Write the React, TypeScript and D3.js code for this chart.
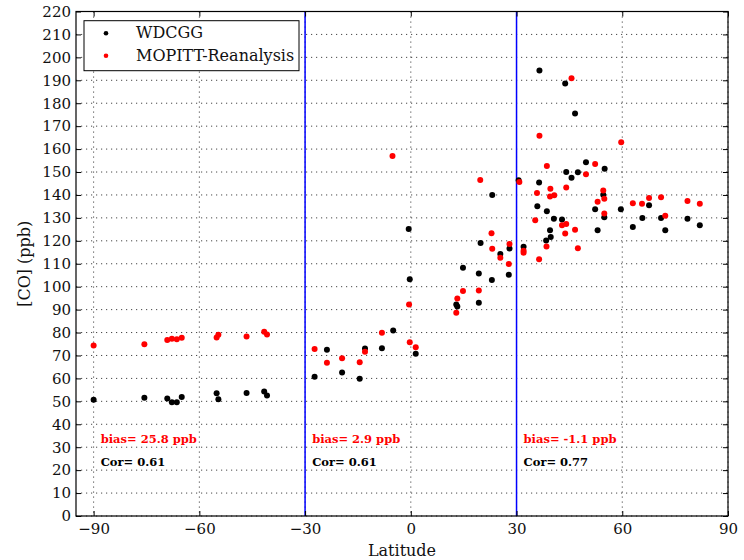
import { useEffect, useRef } from "react"
import * as d3 from "d3"

// WDCGG station observations
const wdcggLat = [
  -90, -75.6, -69.1, -67.8, -66.4, -65, -55.1, -54.6, -46.6, -41.6, -40.8,
  -27.3, -23.8, -19.5, -14.5, -13, -8.2, -5, -0.3, -0.6, 1.4,
  12.9, 13.2, 14.8, 19.3, 19.3, 19.8, 23, 23.1, 25.4, 27.8, 28,
  30.6, 32, 35.9, 36.4, 36.5, 38.4, 38.6, 39.5, 39.7, 40.6, 42.9, 43.8, 44.1,
  45.6, 46.6, 47.4, 49.7, 52.3, 53, 54.6, 54.9, 55, 59.6, 63, 65.7, 67.6, 71,
  72.2, 78.5, 82,
]
const wdcggCO = [
  50.7, 51.6, 51.2, 49.6, 49.6, 51.9, 53.5, 50.9, 53.6, 54.3, 52.6,
  60.7, 72.5, 62.6, 59.9, 73, 73.2, 80.9, 103.2, 125.2, 70.7,
  92.2, 91.4, 108.3, 105.7, 93, 119, 102.9, 140, 114.2, 105.2, 116.7,
  146.4, 117.4, 135.1, 145.4, 194.3, 120.1, 132.9, 124.6, 121.7, 129.6, 129.3, 188.6, 150,
  147.5, 175.5, 149.9, 154.3, 133.8, 124.6, 140.1, 130.3, 151.4, 133.8, 126, 129.9, 135.5, 129.9,
  124.6, 129.6, 126.8,
]

// MOPITT reanalysis sampled at the stations
const mopittLat = [
  -90, -75.6, -69.1, -67.8, -66.4, -65, -55.1, -54.6, -46.6, -41.6, -40.8,
  -27.3, -23.8, -19.5, -14.5, -13, -8.2, -5.2, -0.5, -0.3, 1.4,
  12.9, 13.2, 14.8, 19.3, 19.7, 22.9, 23.1, 25.4, 27.8, 28,
  30.8, 32, 32, 35.3, 35.8, 36.4, 36.5, 38.5, 38.6, 39.5, 39.6, 40.7, 42.9, 43.8,
  44.1, 44.1, 45.6, 46.6, 47.4, 49.7, 52.3, 53, 54.6, 54.9, 54.9, 59.7, 63, 65.6,
  67.6, 71, 72.2, 78.5, 82,
]
const mopittCO = [
  74.3, 74.9, 76.7, 77.3, 77.1, 77.7, 77.8, 79, 78.3, 80.3, 79.1,
  72.8, 66.8, 68.8, 67, 71.6, 79.9, 157, 92.2, 75.8, 73.6,
  88.6, 94.9, 98.1, 98.3, 146.5, 123.3, 116.5, 112.6, 109.9, 118.6,
  145.7, 115.7, 114.8, 129, 140.9, 112, 165.8, 117.5, 152.6, 139.3, 142.7, 139.9, 126.8, 123.2,
  143.3, 127.3, 190.9, 124.8, 116.8, 149, 153.5, 137, 141.9, 138.3, 131.9, 163, 136.4, 136.2,
  138.7, 139, 130.9, 137.4, 136.2,
]

const xTicks = [-90, -60, -30, 0, 30, 60, 90]
const yTicks = d3.range(0, 221, 10)
const bandEdges = [-30, 30]
const bandBias = ["bias= 25.8 ppb", "bias= 2.9 ppb", "bias= -1.1 ppb"]
const bandCor = ["Cor= 0.61", "Cor= 0.61", "Cor= 0.77"]
const bandTextLat = [-88, -28, 32]

const FONT = "DejaVu Serif, serif"

export default function App() {
  const svgRef = useRef<SVGSVGElement>(null)

  useEffect(() => {
    if (!svgRef.current) return
    const svg = d3.select(svgRef.current)
    svg.selectAll("*").remove()

    const width = 744
    const height = 560
    const margin = { top: 11.5, right: 16, bottom: 44, left: 76 }
    const innerWidth = width - margin.left - margin.right
    const innerHeight = height - margin.top - margin.bottom

    const x = d3.scaleLinear().domain([-95, 90]).range([0, innerWidth])
    const y = d3.scaleLinear().domain([0, 220]).range([innerHeight, 0])

    svg.append("rect").attr("width", width).attr("height", height).attr("fill", "white")

    const g = svg.append("g").attr("transform", `translate(${margin.left},${margin.top})`)

    // dotted grid
    g.append("g")
      .selectAll("line")
      .data(xTicks)
      .enter()
      .append("line")
      .attr("x1", (d) => x(d))
      .attr("x2", (d) => x(d))
      .attr("y1", 0)
      .attr("y2", innerHeight)
      .attr("stroke", "#333")
      .attr("stroke-width", 0.9)
      .attr("stroke-dasharray", "1.2,3.8")
    g.append("g")
      .selectAll("line")
      .data(yTicks)
      .enter()
      .append("line")
      .attr("x1", 0)
      .attr("x2", innerWidth)
      .attr("y1", (d) => y(d))
      .attr("y2", (d) => y(d))
      .attr("stroke", "#333")
      .attr("stroke-width", 0.9)
      .attr("stroke-dasharray", "1.2,3.8")

    // band separators
    g.selectAll(".sep")
      .data(bandEdges)
      .enter()
      .append("line")
      .attr("x1", (d) => x(d))
      .attr("x2", (d) => x(d))
      .attr("y1", 0)
      .attr("y2", innerHeight)
      .attr("stroke", "#0000ff")
      .attr("stroke-width", 1.5)

    // axes, ticks pointing inward on all four sides
    const styleAxis = (sel: any) => {
      sel.select(".domain").remove()
      sel.selectAll(".tick line").attr("stroke", "#000")
      sel.selectAll("text").attr("fill", "#111").attr("font-family", FONT).attr("font-size", 15)
    }
    g.append("g")
      .attr("transform", `translate(0,${innerHeight})`)
      .call(d3.axisBottom(x).tickValues(xTicks).tickSize(-5).tickPadding(7.5).tickFormat((d) => d3.format("d")(d as number).replace("-", "\u2212")))
      .call(styleAxis)
    g.append("g").call(d3.axisTop(x).tickValues(xTicks).tickSize(-5).tickFormat(() => "")).call(styleAxis)
    g.append("g")
      .call(d3.axisLeft(y).tickValues(yTicks).tickSize(-5).tickPadding(5).tickFormat(d3.format("d")))
      .call(styleAxis)
    g.append("g")
      .attr("transform", `translate(${innerWidth},0)`)
      .call(d3.axisRight(y).tickValues(yTicks).tickSize(-5).tickFormat(() => ""))
      .call(styleAxis)

    // scatter points
    g.append("g")
      .selectAll("circle")
      .data(wdcggLat.map((lat, i) => [lat, wdcggCO[i]]))
      .enter()
      .append("circle")
      .attr("cx", (d) => x(d[0]))
      .attr("cy", (d) => y(d[1]))
      .attr("r", 3)
      .attr("fill", "#000")
    g.append("g")
      .selectAll("circle")
      .data(mopittLat.map((lat, i) => [lat, mopittCO[i]]))
      .enter()
      .append("circle")
      .attr("cx", (d) => x(d[0]))
      .attr("cy", (d) => y(d[1]))
      .attr("r", 3)
      .attr("fill", "#ff0000")

    // bias / correlation annotations
    g.selectAll(".bias")
      .data(bandBias)
      .enter()
      .append("text")
      .attr("x", (_, i) => x(bandTextLat[i]))
      .attr("y", y(32))
      .attr("fill", "#ff0000")
      .attr("font-family", FONT)
      .attr("font-weight", "bold")
      .attr("font-size", 11.5)
      .text((d) => d)
    g.selectAll(".cor")
      .data(bandCor)
      .enter()
      .append("text")
      .attr("x", (_, i) => x(bandTextLat[i]))
      .attr("y", y(22))
      .attr("fill", "#000")
      .attr("font-family", FONT)
      .attr("font-weight", "bold")
      .attr("font-size", 11.5)
      .text((d) => d)

    // frame
    g.append("rect")
      .attr("width", innerWidth)
      .attr("height", innerHeight)
      .attr("fill", "none")
      .attr("stroke", "#000")
      .attr("stroke-width", 1.2)

    // legend
    const legend = g.append("g").attr("transform", "translate(8,9.2)")
    legend.append("rect").attr("width", 215).attr("height", 50).attr("fill", "white").attr("stroke", "#000").attr("stroke-width", 1)
    const entries = [
      { label: "WDCGG", color: "#000" },
      { label: "MOPITT-Reanalysis", color: "#ff0000" },
    ]
    entries.forEach((e, i) => {
      legend.append("circle").attr("cx", 22).attr("cy", 12.5 + i * 22.5).attr("r", 2.3).attr("fill", e.color)
      legend
        .append("text")
        .attr("x", 52)
        .attr("y", 17.5 + i * 22.5)
        .attr("font-family", FONT)
        .attr("font-size", 16)
        .attr("fill", "#111")
        .text(e.label)
    })

    // axis titles
    svg.append("text")
      .attr("x", margin.left + innerWidth / 2)
      .attr("y", 556)
      .attr("text-anchor", "middle")
      .attr("font-family", FONT)
      .attr("font-size", 16)
      .attr("fill", "#111")
      .text("Latitude")
    svg.append("text")
      .attr("transform", `translate(30,${margin.top + innerHeight / 2}) rotate(-90)`)
      .attr("text-anchor", "middle")
      .attr("font-family", FONT)
      .attr("font-size", 16)
      .attr("fill", "#111")
      .text("[CO] (ppb)")
  }, [])

  return <svg ref={svgRef} width={744} height={560} style={{ position: "absolute", left: 0, top: 0, display: "block" }} />
}
